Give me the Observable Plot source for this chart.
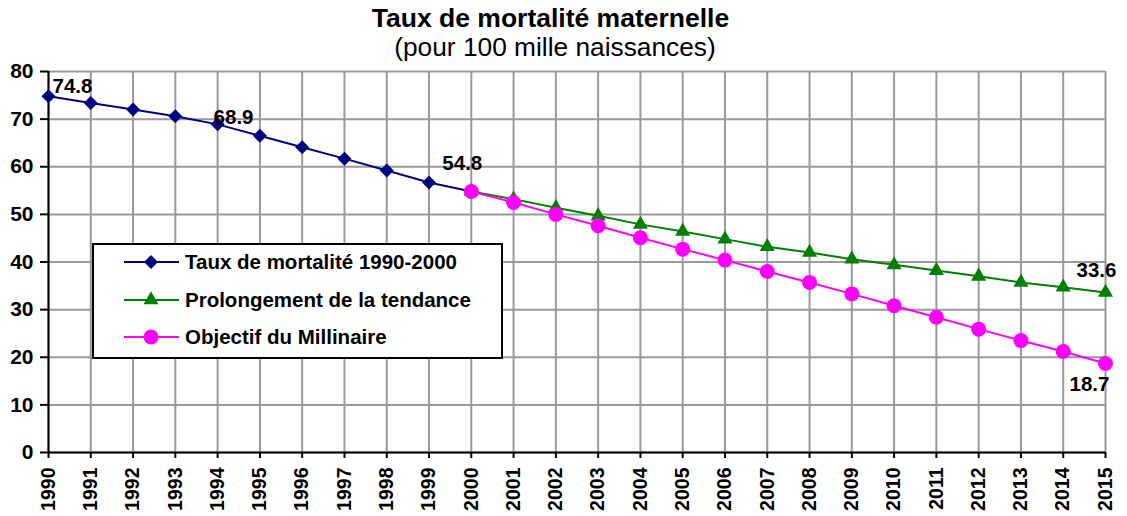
<!DOCTYPE html>
<html><head><meta charset="utf-8">
<script src="https://cdn.jsdelivr.net/npm/d3@7"></script>
<script src="https://cdn.jsdelivr.net/npm/@observablehq/plot@0.6"></script>
<style>
body{margin:0;background:#fff;font-family:"Liberation Sans",Arial,sans-serif;width:1127px;height:516px;overflow:hidden;position:relative}
#title{height:32px;line-height:32px;padding-top:2px;font-size:26.5px;font-weight:bold;text-align:center;width:1101px;color:#000}
#subtitle{height:27px;line-height:26px;font-size:26.3px;text-align:center;width:1110px;color:#000}
#legend{position:absolute;left:92px;top:243px;width:411px;height:116px;box-sizing:border-box;border:2px solid #000;background:#fff}
.lrow{position:absolute;left:29px;height:24px;display:flex;align-items:center}
.lrow span{font-size:20.5px;font-weight:bold;margin-left:5px;white-space:nowrap;color:#000}
</style></head><body>
<div id="title">Taux de mortalité maternelle</div>
<div id="subtitle">(pour 100 mille naissances)</div>
<div id="chart"></div>
<script>
// ---- data ----
const yearsObserved = [1990, 1991, 1992, 1993, 1994, 1995, 1996, 1997, 1998, 1999, 2000];
const tauxMortalite = [74.8, 73.4, 72.0, 70.6, 68.9, 66.5, 64.1, 61.7, 59.2, 56.7, 54.8];

const yearsProjected = [2000, 2001, 2002, 2003, 2004, 2005, 2006, 2007, 2008, 2009, 2010, 2011, 2012, 2013, 2014, 2015];
const prolongement = [54.8, 53.2, 51.4, 49.7, 47.9, 46.4, 44.8, 43.2, 42.0, 40.6, 39.4, 38.2, 37.0, 35.7, 34.7, 33.6];
const objectif = [54.8, 52.5, 50.0, 47.6, 45.1, 42.7, 40.4, 38.0, 35.7, 33.3, 30.8, 28.4, 25.9, 23.5, 21.2, 18.7];

const seriesNames = ["Taux de mortalité 1990-2000", "Prolongement de la tendance", "Objectif du Millinaire"];
const seriesColors = ["#000080", "#008000", "#ff00ff"];
const seriesSymbols = ["diamond2", "triangle", "circle"];

const xTickYears = [1990, 1991, 1992, 1993, 1994, 1995, 1996, 1997, 1998, 1999, 2000, 2001, 2002, 2003, 2004, 2005, 2006, 2007, 2008, 2009, 2010, 2011, 2012, 2013, 2014, 2015];
const yTickValues = [0, 10, 20, 30, 40, 50, 60, 70, 80];

// ---- tables ----
const s1 = yearsObserved.map((year, i) => ({year, value: tauxMortalite[i]}));
const s2 = yearsProjected.map((year, i) => ({year, value: prolongement[i]}));
const s3 = yearsProjected.map((year, i) => ({year, value: objectif[i]}));
const fmt = d3.format(".1f");
const lbl = {x: "year", y: "value", text: d => fmt(d.value), fontSize: 20.5, fontWeight: "bold", fill: "#000"};

const plot = Plot.plot({
  width: 1127, height: 455,
  marginTop: 10, marginBottom: 64, marginLeft: 48, marginRight: 22,
  style: {fontFamily: "'Liberation Sans', Arial, sans-serif", background: "white", overflow: "visible", color: "#000"},
  x: {domain: [1990, 2015]},
  y: {domain: [0, 80]},
  marks: [
    Plot.gridX(xTickYears, {stroke: "#999", strokeOpacity: 1, strokeWidth: 2}),
    Plot.gridY(yTickValues, {stroke: "#999", strokeOpacity: 1, strokeWidth: 2}),
    Plot.ruleX([1990], {stroke: "#000", strokeWidth: 2}),
    Plot.ruleY([0], {stroke: "#000", strokeWidth: 2}),
    Plot.axisY({ticks: yTickValues, tickSize: 8, tickPadding: 7, fontSize: 21, fontWeight: "bold", label: null, tickFormat: d => String(d), strokeWidth: 2}),
    Plot.axisX({ticks: xTickYears, tickSize: 6, tickPadding: 9, tickRotate: -90, fontSize: 19.5, fontWeight: "bold", label: null, tickFormat: d => String(d), strokeWidth: 2}),
    Plot.line(s1, {x: "year", y: "value", stroke: seriesColors[0], strokeWidth: 2}),
    Plot.dot(s1, {x: "year", y: "value", symbol: seriesSymbols[0], fill: seriesColors[0], r: 6.3}),
    Plot.line(s2, {x: "year", y: "value", stroke: seriesColors[1], strokeWidth: 2}),
    Plot.dot(s2, {x: "year", y: "value", symbol: seriesSymbols[1], fill: seriesColors[1], r: 5.6}),
    Plot.line(s3, {x: "year", y: "value", stroke: seriesColors[2], strokeWidth: 2}),
    Plot.dot(s3, {x: "year", y: "value", symbol: seriesSymbols[2], fill: seriesColors[2], r: 7.5}),
    Plot.text(s1.filter(d => d.year === 1990), {...lbl, textAnchor: "start", dx: 4, dy: -10}),
    Plot.text(s1.filter(d => d.year === 1994), {...lbl, textAnchor: "start", dx: -4, dy: -7}),
    Plot.text(s1.filter(d => d.year === 2000), {...lbl, textAnchor: "middle", dx: -9, dy: -28}),
    Plot.text(s2.filter(d => d.year === 2015), {...lbl, textAnchor: "middle", dx: -9, dy: -22}),
    Plot.text(s3.filter(d => d.year === 2015), {...lbl, textAnchor: "middle", dx: -16, dy: 21})
  ]
});
document.getElementById("chart").appendChild(plot);

// ---- legend ----
const legend = d3.select("body").append("div").attr("id", "legend");
const symMap = {diamond2: d3.symbolDiamond2, triangle: d3.symbolTriangle, circle: d3.symbolCircle};
const symSize = {diamond2: 125, triangle: 97, circle: Math.PI * 7.5 * 7.5};
seriesNames.forEach((name, i) => {
  const row = legend.append("div").attr("class", "lrow").style("top", (5 + i * 37.5) + "px");
  const svg = row.append("svg").attr("width", 57).attr("height", 24);
  svg.append("line").attr("x1", 1).attr("x2", 56).attr("y1", 12).attr("y2", 12)
    .attr("stroke", seriesColors[i]).attr("stroke-width", 2);
  svg.append("path").attr("transform", "translate(28,12)")
    .attr("d", d3.symbol(symMap[seriesSymbols[i]], symSize[seriesSymbols[i]])())
    .attr("fill", seriesColors[i]);
  row.append("span").text(name);
});
</script>
</body></html>
